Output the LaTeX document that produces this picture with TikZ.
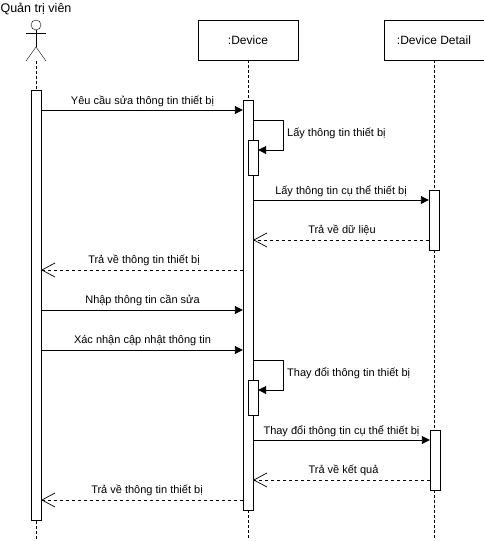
\documentclass[tikz,border=0pt]{standalone}
\usepackage{fontspec}
\setmainfont{Liberation Sans}
\usetikzlibrary{arrows.meta}
\tikzset{
  obj/.style={draw, fill=white, minimum width=100pt, minimum height=40pt, inner sep=0pt, font=\fontsize{12pt}{14pt}\selectfont},
  act/.style={draw, fill=white, minimum width=10pt, inner sep=0pt},
  life/.style={densely dashed, line width=0.8pt},
  msg/.style={-{Triangle[length=8pt,width=8pt]}, line width=0.9pt},
  ret/.style={-{Straight Barb[length=13pt,width=14pt,line width=0.7pt]}, dashed, line width=0.9pt, dash pattern=on 3pt off 3pt},
  lbl/.style={inner sep=0pt}
}
\begin{document}
\begin{tikzpicture}[x=1pt, y=-1pt, font=\fontsize{11pt}{13pt}\selectfont, line join=miter]
\useasboundingbox (0,0) rectangle (484,541);
% actor
\node[lbl, font=\fontsize{12.5pt}{14pt}\selectfont] (lblAdmin) at (36,9) {Quản trị viên};
\node[draw, circle, minimum size=10pt, inner sep=0pt] (head) at (36,25) {};
\coordinate (hip) at (36,47);
\coordinate (armL) at (26,33);
\coordinate (armR) at (46,33);
\coordinate (legL) at (26,61);
\coordinate (legR) at (46,61);
\draw (head.south) -- (hip);
\draw (armL) -- (armR);
\draw (legL) -- (hip) -- (legR);
% objects
\node[obj] (objDevice) at (248,40) {:Device};
\node[obj] (objDetail) at (434,40) {:Device Detail};
% lifelines
\coordinate (endAdmin) at (36,540);
\coordinate (endDevice) at (248,540);
\coordinate (endDetail) at (434,540);
\draw[life] (36,61) -- (endAdmin);
\draw[life] (objDevice.south) -- (endDevice);
\draw[life] (objDetail.south) -- (endDetail);
% activations
\node[act, minimum height=430pt] (actAdmin) at (36,305) {};
\node[act, minimum height=410pt] (actDevice) at (248,305) {};
\node[act, minimum height=35pt] (actGet) at (253,157.5) {};
\node[act, minimum height=35pt] (actSet) at (253,397.5) {};
\node[act, minimum height=60pt] (actDetailA) at (434,220) {};
\node[act, minimum height=60pt] (actDetailB) at (435,460) {};
% messages
\draw[msg] (actAdmin.east |- 0,110) -- (actDevice.west |- 0,110);
\node[lbl] (lblReq) at (142.5,101) {Yêu cầu sửa thông tin thiết bị};
\draw[msg] (actDevice.east |- 0,120) -- (283,120) -- (283,150) -- (actGet.east |- 0,150);
\node[lbl, anchor=west] (lblGet) at (287,133) {Lấy thông tin thiết bị};
\draw[msg] (actDevice.east |- 0,200) -- (actDetailA.west |- 0,200);
\node[lbl] (lblGetDetail) at (341,191) {Lấy thông tin cụ thể thiết bị};
\draw[ret] (actDetailA.west |- 0,240) -- (actDevice.east |- 0,240);
\node[lbl] (lblData) at (342,230) {Trả về dữ liệu};
\draw[ret] (actDevice.west |- 0,270) -- (actAdmin.east |- 0,270);
\node[lbl] (lblBackA) at (144,260) {Trả về thông tin thiết bị};
\draw[msg] (actAdmin.east |- 0,310) -- (actDevice.west |- 0,310);
\node[lbl] (lblInput) at (142.5,300) {Nhập thông tin cần sửa};
\draw[msg] (actAdmin.east |- 0,350) -- (actDevice.west |- 0,350);
\node[lbl] (lblConfirm) at (142.5,341) {Xác nhận cập nhật thông tin};
\draw[msg] (actDevice.east |- 0,360) -- (283,360) -- (283,390) -- (actSet.east |- 0,390);
\node[lbl, anchor=west] (lblSet) at (287,373) {Thay đổi thông tin thiết bị};
\draw[msg] (actDevice.east |- 0,440) -- (actDetailB.west |- 0,440);
\node[lbl] (lblSetDetail) at (341.5,431) {Thay đổi thông tin cụ thể thiết bị};
\draw[ret] (actDetailB.west |- 0,480) -- (actDevice.east |- 0,480);
\node[lbl] (lblResult) at (343.5,470) {Trả về kết quả};
\draw[ret] (actDevice.west |- 0,500) -- (actAdmin.east |- 0,500);
\node[lbl] (lblBackB) at (147,490) {Trả về thông tin thiết bị};
\end{tikzpicture}
\end{document}
